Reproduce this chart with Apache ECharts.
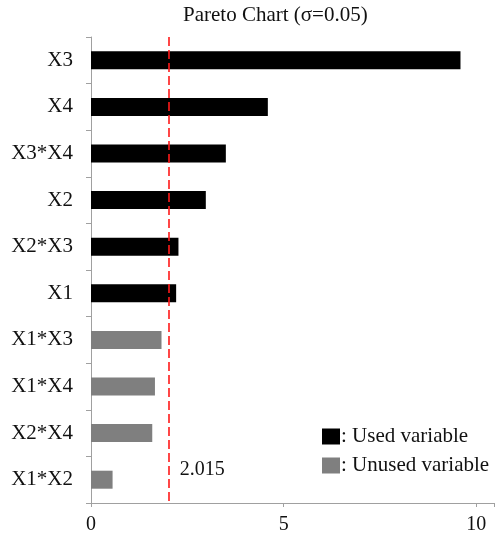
<!DOCTYPE html>
<html>
<head>
<meta charset="utf-8">
<script src="https://cdn.jsdelivr.net/npm/echarts@6/dist/echarts.min.js"></script>
<style>
  html, body { margin: 0; padding: 0; background: #fff; }
  #chart { width: 497px; height: 540px; }
</style>
</head>
<body>
<div id="chart"></div>
<script>
// Effect sizes per term, sorted largest first; '-' leaves a slot empty
const categories = ['X3', 'X4', 'X3*X4', 'X2', 'X2*X3', 'X1', 'X1*X3', 'X1*X4', 'X2*X4', 'X1*X2'];
const usedValues = [9.59, 4.59, 3.50, 2.98, 2.27, 2.21, '-', '-', '-', '-'];
const unusedValues = ['-', '-', '-', '-', '-', '-', 1.83, 1.66, 1.59, 0.56];
const threshold = 2.015;
const xTicks = [0, 5, 10];

const serif = '"Liberation Serif", "Times New Roman", serif';
const axisGray = '#a0a0a0';
const textColor = '#111111';

const chart = echarts.init(document.getElementById('chart'), null, { renderer: 'canvas' });

chart.setOption({
  animation: false,
  backgroundColor: '#ffffff',
  title: {
    text: 'Pareto Chart (σ=0.05)',
    left: 183,
    top: 5,
    padding: 0,
    textStyle: { fontFamily: serif, fontSize: 21, fontWeight: 'normal', color: textColor }
  },
  legend: {
    orient: 'vertical',
    left: 322,
    top: 426,
    padding: 0,
    itemWidth: 18,
    itemHeight: 16,
    itemGap: 8,
    icon: 'rect',
    formatter: name => ': ' + name,
    textStyle: { fontFamily: serif, fontSize: 21, color: textColor, lineHeight: 16, padding: [0, 0, 0, -4] },
    data: ['Used variable', 'Unused variable']
  },
  grid: { left: 91, right: 0, top: 37, bottom: 37, containLabel: false },
  xAxis: {
    type: 'value',
    min: 0,
    max: 10.46,
    interval: 5,
    splitLine: { show: false },
    axisLine: { show: true, lineStyle: { color: axisGray, width: 1 } },
    axisTick: { show: true, length: 4, lineStyle: { color: axisGray } },
    axisLabel: {
      margin: 12,
      fontFamily: serif,
      fontSize: 20,
      color: textColor,
      formatter: v => (xTicks.indexOf(v) >= 0 ? String(v) : '')
    }
  },
  yAxis: {
    type: 'category',
    inverse: true,
    data: categories,
    axisLine: { show: true, lineStyle: { color: axisGray, width: 1 } },
    axisTick: { show: true, length: 5, lineStyle: { color: axisGray } },
    axisLabel: { margin: 18, fontFamily: serif, fontSize: 21, color: textColor }
  },
  series: [
    {
      name: 'Used variable',
      type: 'bar',
      data: usedValues,
      barWidth: 18,
      barGap: '-100%',
      itemStyle: { color: '#000000' },
      markLine: {
        silent: true,
        symbol: 'none',
        label: { show: false },
        lineStyle: { color: '#ff1a1a', type: [9, 4], width: 1.6 },
        data: [{ xAxis: threshold }]
      }
    },
    {
      name: 'Unused variable',
      type: 'bar',
      data: unusedValues,
      barWidth: 18,
      barGap: '-100%',
      itemStyle: { color: '#7f7f7f' },
      markPoint: {
        silent: true,
        symbol: 'circle',
        symbolSize: 0,
        label: {
          show: true,
          position: 'right',
          distance: 11,
          offset: [0, -10],
          fontFamily: serif,
          fontSize: 20,
          color: textColor,
          formatter: () => String(threshold)
        },
        data: [{ coord: [threshold, categories[categories.length - 1]] }]
      }
    }
  ]
});
</script>
</body>
</html>
